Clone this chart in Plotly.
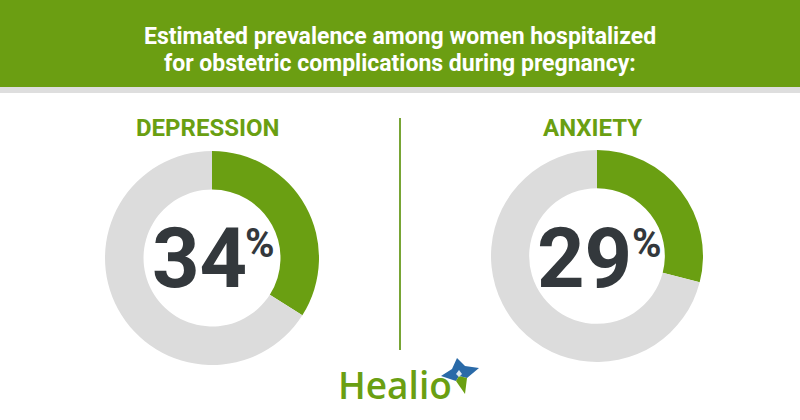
import plotly.graph_objects as go

W, H = 800, 420

# ---- data ----
categories = ["DEPRESSION", "ANXIETY"]
prevalence = [34, 29]
header_lines = ["Estimated prevalence among women hospitalized",
                "for obstetric complications during pregnancy:"]
brand = "Healio"

GREEN = "#6a9f12"
GRAY = "#dcdcdc"
DARK = "#33383c"

def px(x):
    return x / W

def py(y):
    return 1 - y / H

fig = go.Figure()

# donut geometry (pixel boxes: left, top, right, bottom)
boxes = [(105, 151, 319, 365), (491, 149, 703, 363)]
for cat, val, (l, t, r, b) in zip(categories, prevalence, boxes):
    fig.add_trace(go.Pie(
        values=[val, 100 - val],
        labels=[cat, "other"],
        hole=0.64,
        sort=False,
        direction="clockwise",
        rotation=0,
        marker=dict(colors=[GREEN, GRAY], line=dict(width=0)),
        textinfo="none",
        hoverinfo="skip",
        showlegend=False,
        domain=dict(x=[px(l), px(r)], y=[py(b), py(t)]),
    ))

shapes = [
    dict(type="rect", xref="paper", yref="paper", x0=0, x1=1, y0=py(87), y1=1,
         fillcolor="#6b9e12", line=dict(width=0), layer="below"),
    dict(type="rect", xref="paper", yref="paper", x0=0, x1=1, y0=py(93), y1=py(87),
         fillcolor="#dedede", line=dict(width=0), layer="below"),
    dict(type="line", xref="paper", yref="paper", x0=px(400), x1=px(400),
         y0=py(118), y1=py(350), line=dict(color="#78a535", width=2)),
]

# logo star
def path(points):
    s = "M " + " L ".join(f"{px(x):.5f},{py(y):.5f}" for x, y in points) + " Z"
    return s

star_blue = [(457, 358), (465, 366), (479, 368), (467, 378), (459, 376),
             (456, 381), (441, 376), (452, 369)]
star_green = [(467, 378), (465, 394), (456, 381), (459, 376)]
star_core = [(459, 370), (462, 374), (459, 377), (456, 374)]
shapes.append(dict(type="path", xref="paper", yref="paper", path=path(star_blue),
                   fillcolor="#2a6aa8", line=dict(width=0)))
shapes.append(dict(type="path", xref="paper", yref="paper", path=path(star_green),
                   fillcolor="#6a9f12", line=dict(width=0)))
shapes.append(dict(type="path", xref="paper", yref="paper", path=path(star_core),
                   fillcolor="#dbe8f3", line=dict(width=0)))

annotations = [
    dict(text=brand, x=px(395), y=py(384), xref="paper", yref="paper", showarrow=False,
         xanchor="center", yanchor="middle",
         font=dict(family="Open Sans", size=37, color="#6a9f12", weight=600)),
]
for line, yc in zip(header_lines, [36, 63]):
    annotations.append(dict(text=line, x=px(400), y=py(yc),
                            xref="paper", yref="paper", showarrow=False,
                            xanchor="center", yanchor="middle",
                            font=dict(family="Roboto", size=23, color="white", weight="bold")))

title_x = [208, 592]
num_x = [199, 584]
pct_x = [260, 647]
for cat, val, tx, nx, pcx in zip(categories, prevalence, title_x, num_x, pct_x):
    annotations.append(dict(text=f"<b>{cat}</b>", x=px(tx), y=py(128), xref="paper", yref="paper",
                            showarrow=False, xanchor="center", yanchor="middle",
                            font=dict(family="Roboto", size=24, color=GREEN)))
    annotations.append(dict(text=f"<b>{val}</b>", x=px(nx), y=py(258), xref="paper", yref="paper",
                            showarrow=False, xanchor="center", yanchor="middle",
                            font=dict(family="Roboto", size=83, color=DARK)))
    annotations.append(dict(text="<b>%</b>", x=px(pcx), y=py(243), xref="paper", yref="paper",
                            showarrow=False, xanchor="center", yanchor="middle",
                            font=dict(family="Roboto", size=40, color=DARK)))

fig.update_layout(
    width=W, height=H,
    margin=dict(l=0, r=0, t=0, b=0),
    paper_bgcolor="white", plot_bgcolor="white",
    shapes=shapes, annotations=annotations,
)

fig.write_html("out.html")
